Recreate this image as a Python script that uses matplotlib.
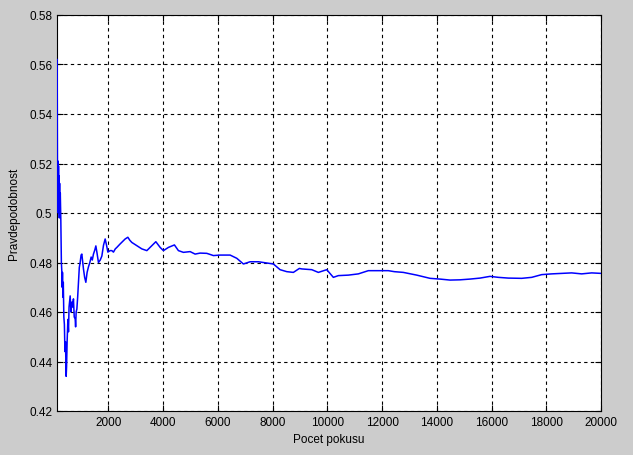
import numpy as np
import matplotlib.pyplot as plt

# Pocet pokusu a odhad pravdepodobnosti
pokusy = np.array([126, 135, 145, 155, 165, 175, 185, 195, 205, 215, 225, 240, 260, 280,
                   298, 310, 320, 335, 350, 370, 390, 410, 430, 455, 470, 490, 517, 540,
                   560, 601, 630, 663, 690, 721, 750, 784, 800, 820, 846, 875, 904, 935,
                   966, 1000, 1028, 1060, 1087, 1130, 1174, 1220, 1269, 1320, 1368, 1410,
                   1452, 1500, 1540, 1580, 1635, 1700, 1759, 1820, 1880, 1930, 1978, 2062,
                   2124, 2183, 2250, 2307, 2427, 2520, 2610, 2709, 2780, 2855, 3037, 3220,
                   3403, 3585, 3732, 3889, 4009, 4192, 4411, 4557, 4740, 4985, 5167, 5350,
                   5594, 5836, 6081, 6447, 6690, 6932, 7177, 7480, 7786, 8028, 8272, 8517,
                   8758, 8977, 9065, 9430, 9671, 9978, 10219, 10402, 10767, 11132, 11498,
                   11863, 12228, 12447, 12776, 13266, 13752, 14117, 14483, 14848, 15213,
                   15579, 15944, 16247, 16612, 17102, 17467, 17832, 18197, 18563, 18928,
                   19293, 19659, 20000])
pravd = np.array([0.562, 0.520, 0.505, 0.521, 0.500, 0.519, 0.503, 0.515, 0.498, 0.512,
                  0.500, 0.508, 0.497, 0.480, 0.476, 0.470, 0.476, 0.466, 0.472, 0.458,
                  0.455, 0.444, 0.448, 0.434, 0.438, 0.448, 0.457, 0.452, 0.462, 0.4665,
                  0.460, 0.464, 0.462, 0.4653, 0.458, 0.4572, 0.454, 0.460, 0.4612, 0.466,
                  0.472, 0.478, 0.480, 0.483, 0.4834, 0.480, 0.4774, 0.474, 0.472, 0.476,
                  0.4782, 0.480, 0.4822, 0.481, 0.4834, 0.485, 0.4867, 0.484, 0.480, 0.481,
                  0.4826, 0.487, 0.4895, 0.487, 0.4842, 0.4848, 0.4848, 0.4842, 0.4855,
                  0.4861, 0.4875, 0.4885, 0.4895, 0.4902, 0.489, 0.4881, 0.4868, 0.4855,
                  0.4848, 0.4868, 0.4884, 0.4861, 0.4848, 0.4861, 0.4871, 0.4848, 0.4841,
                  0.4844, 0.4834, 0.4838, 0.4837, 0.4828, 0.483, 0.483, 0.4817, 0.4794,
                  0.4803, 0.4803, 0.4798, 0.4794, 0.4771, 0.4763, 0.476, 0.4776, 0.4774,
                  0.4771, 0.476, 0.4771, 0.474, 0.4747, 0.4749, 0.4754, 0.4767, 0.4767,
                  0.4767, 0.4763, 0.476, 0.4749, 0.4736, 0.4733, 0.4729, 0.473, 0.4733,
                  0.4737, 0.4744, 0.474, 0.4737, 0.4736, 0.474, 0.4751, 0.4754, 0.4756,
                  0.4758, 0.4754, 0.4758, 0.4756])

x_ticks = [2000, 4000, 6000, 8000, 10000, 12000, 14000, 16000, 18000, 20000]
y_ticks = [0.42, 0.44, 0.46, 0.48, 0.5, 0.52, 0.54, 0.56, 0.58]
y_labels = ['0.42', '0.44', '0.46', '0.48', '0.5', '0.52', '0.54', '0.56', '0.58']

plt.rcParams['font.family'] = ['Liberation Sans', 'DejaVu Sans']
plt.rcParams['font.size'] = 8.5

fig = plt.figure(figsize=(6.33, 4.56), dpi=100, facecolor='#cccccc')
ax = fig.add_axes([57 / 633, 1 - 412 / 456, 544 / 633, 396 / 456])
ax.set_facecolor('white')

# cara nad ramem grafu, aby byl videt i zacatek u leve osy
ax.plot(pokusy, pravd, color='#0000ff', linewidth=1.1, zorder=3)

ax.set_xlim(120, 20000)
ax.set_ylim(0.42, 0.58)
ax.set_xticks(x_ticks)
ax.set_xticklabels([str(t) for t in x_ticks])
ax.set_yticks(y_ticks)
ax.set_yticklabels(y_labels)
ax.tick_params(direction='in', length=4, width=0.8, top=True, right=True, colors='black')
ax.grid(True, color='black', linestyle=(0, (3, 3)), linewidth=0.8)
for s in ax.spines.values():
    s.set_linewidth(0.8)

ax.set_xlabel('Pocet pokusu')
ax.set_ylabel('Pravdepodobnost')
ax.yaxis.set_label_coords(-0.068, 0.5)

fig.savefig('out.png', dpi=100, facecolor=fig.get_facecolor())
